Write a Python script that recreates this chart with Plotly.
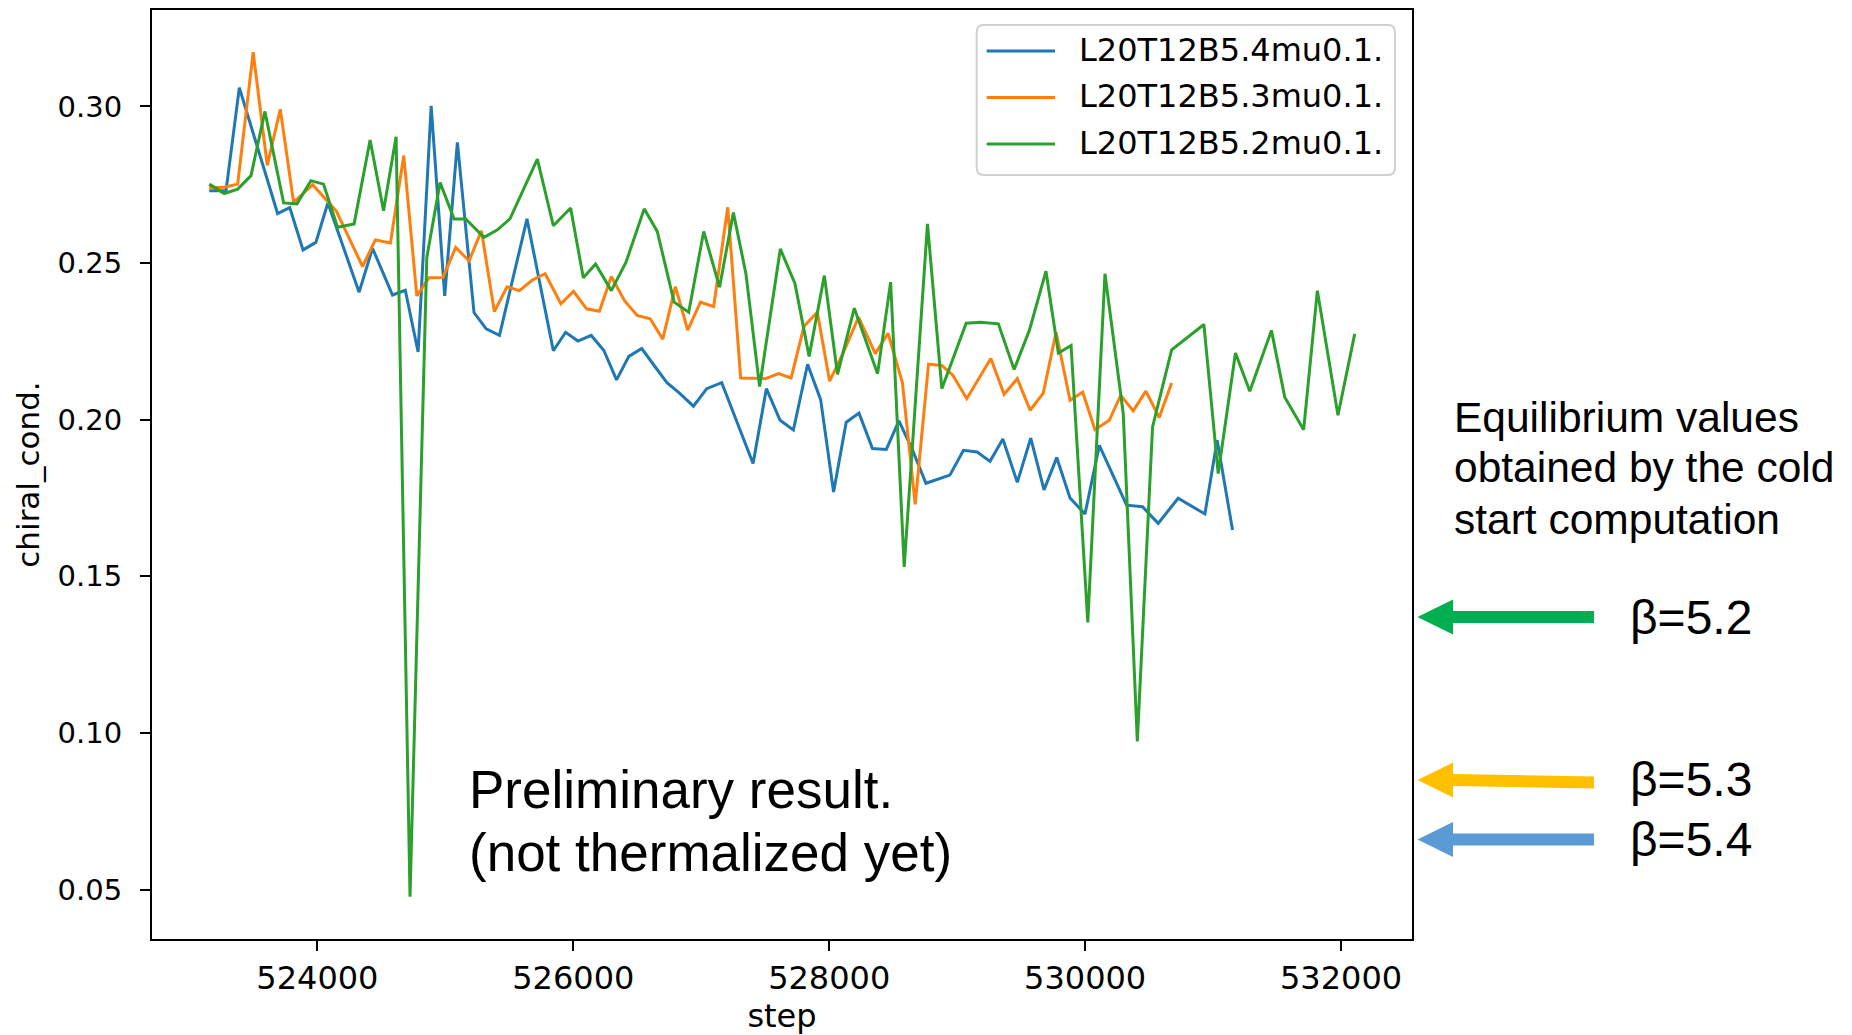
import plotly.graph_objects as go

# ---- measured chiral condensate vs. HMC step, one list pair per beta ----
steps_b54 = [523155, 523286, 523390, 523689, 523784, 523888, 523988, 524082, 524326, 524431,
             524587, 524687, 524787, 524889, 524995, 525094, 525224, 525319, 525423, 525638,
             525844, 525940, 526036, 526140, 526239, 526338, 526434, 526535, 526632, 526734,
             526832, 526939, 527043, 527160, 527405, 527509, 527616, 527720, 527831, 527933,
             528034, 528133, 528233, 528338, 528446, 528545, 528652, 528756, 528943, 529049,
             529156, 529257, 529357, 529470, 529575, 529679, 529778, 529882, 529999, 530111,
             530324, 530449, 530571, 530727, 530936, 531032, 531152]
chiral_b54 = [0.2731, 0.2731, 0.3060, 0.2658, 0.2677, 0.2542, 0.2566, 0.2692, 0.2407, 0.2547,
              0.2398, 0.2413, 0.2216, 0.3002, 0.2395, 0.2885, 0.2342, 0.2290, 0.2269, 0.2641,
              0.2220, 0.2279, 0.2251, 0.2269, 0.2221, 0.2127, 0.2202, 0.2227, 0.2173, 0.2117,
              0.2084, 0.2043, 0.2099, 0.2118, 0.1860, 0.2099, 0.1998, 0.1967, 0.2177, 0.2064,
              0.1769, 0.1992, 0.2021, 0.1908, 0.1905, 0.1996, 0.1902, 0.1797, 0.1823, 0.1902,
              0.1897, 0.1867, 0.1938, 0.1800, 0.1941, 0.1776, 0.1879, 0.1750, 0.1699, 0.1918,
              0.1727, 0.1722, 0.1669, 0.1749, 0.1699, 0.1934, 0.1648]

steps_b53 = [523155, 523272, 523377, 523498, 523608, 523710, 523814, 523963, 524148, 524353,
             524453, 524571, 524675, 524777, 524873, 524981, 525081, 525185, 525282, 525383,
             525482, 525579, 525680, 525780, 525903, 526002, 526104, 526204, 526297, 526400,
             526499, 526601, 526699, 526798, 526894, 526994, 527097, 527207, 527308, 527403,
             527501, 527605, 527702, 527803, 527907, 528003, 528108, 528229, 528360, 528460,
             528572, 528672, 528776, 528880, 528966, 529075, 529166, 529263, 529367, 529470,
             529570, 529673, 529773, 529882, 529981, 530077, 530189, 530278, 530376, 530475,
             530579, 530676]
chiral_b53 = [0.2741, 0.2742, 0.2752, 0.3173, 0.2812, 0.2991, 0.2694, 0.2750, 0.2666, 0.2489,
              0.2574, 0.2564, 0.2843, 0.2395, 0.2453, 0.2454, 0.2550, 0.2507, 0.2603, 0.2345,
              0.2424, 0.2412, 0.2446, 0.2466, 0.2370, 0.2410, 0.2354, 0.2346, 0.2457, 0.2380,
              0.2333, 0.2322, 0.2257, 0.2425, 0.2286, 0.2375, 0.2361, 0.2678, 0.2133, 0.2131,
              0.2131, 0.2147, 0.2133, 0.2298, 0.2343, 0.2123, 0.2212, 0.2327, 0.2211, 0.2276,
              0.2118, 0.1730, 0.2177, 0.2173, 0.2142, 0.2067, 0.2128, 0.2195, 0.2081, 0.2131,
              0.2030, 0.2085, 0.2279, 0.2062, 0.2088, 0.1968, 0.1998, 0.2078, 0.2028, 0.2091,
              0.2007, 0.2117]

steps_b52 = [523155, 523272, 523377, 523481, 523590, 523736, 523840, 523949, 524048, 524158,
             524287, 524412, 524517, 524615, 524724, 524855, 524959, 525068, 525159, 525302,
             525407, 525505, 525719, 525844, 525979, 526078, 526174, 526297, 526412, 526554,
             526656, 526788, 526902, 527019, 527143, 527251, 527349, 527456, 527618, 527732,
             527843, 527962, 528065, 528196, 528378, 528480, 528586, 528768, 528880, 529070,
             529185, 529322, 529445, 529564, 529694, 529791, 529890, 530021, 530155, 530298,
             530408, 530527, 530676, 530928, 531040, 531175, 531287, 531456, 531560, 531708,
             531815, 531976, 532107]
chiral_b52 = [0.2752, 0.2722, 0.2736, 0.2779, 0.2984, 0.2692, 0.2689, 0.2763, 0.2752, 0.2614,
              0.2625, 0.2893, 0.2667, 0.2903, 0.0477, 0.2518, 0.2757, 0.2641, 0.2641, 0.2582,
              0.2606, 0.2641, 0.2832, 0.2619, 0.2676, 0.2453, 0.2497, 0.2412, 0.2503, 0.2673,
              0.2601, 0.2375, 0.2343, 0.2601, 0.2423, 0.2661, 0.2466, 0.2106, 0.2545, 0.2435,
              0.2202, 0.2460, 0.2145, 0.2356, 0.2147, 0.2439, 0.1530, 0.2625, 0.2099, 0.2308,
              0.2311, 0.2306, 0.2160, 0.2285, 0.2474, 0.2213, 0.2237, 0.1353, 0.2466, 0.2019,
              0.0973, 0.1977, 0.2223, 0.2304, 0.1828, 0.2213, 0.2091, 0.2285, 0.2072, 0.1968,
              0.2412, 0.2014, 0.2274]

series_names = ["L20T12B5.4mu0.1.", "L20T12B5.3mu0.1.", "L20T12B5.2mu0.1."]
series_colors = ["#1f77b4", "#ff7f0e", "#2ca02c"]
series_steps = [steps_b54, steps_b53, steps_b52]
series_values = [chiral_b54, chiral_b53, chiral_b52]

# cold-start equilibrium values, marked with arrows to the right of the axes
eq_labels = ["β=5.2", "β=5.3", "β=5.4"]
eq_values = [0.137, 0.085, 0.066]
eq_colors = ["#00B050", "#FFC000", "#5B9BD5"]

x_ticks = [524000, 526000, 528000, 530000, 532000]
y_ticks = [0.05, 0.10, 0.15, 0.20, 0.25, 0.30]

# ---- page geometry (pixels) ----
W, H = 1852, 1035
L, R, T, B = 152, 1412, 10, 939


def px(x):
    return (x - L) / (R - L)


def py(y):
    return (B - y) / (B - T)


def padded(vals, frac=0.05):
    lo, hi = min(vals), max(vals)
    pad = (hi - lo) * frac
    return [lo - pad, hi + pad]


all_x = [v for s in series_steps for v in s]
all_y = [v for s in series_values for v in s]

fig = go.Figure()
for xs, ys, name, color in zip(series_steps, series_values, series_names, series_colors):
    fig.add_trace(go.Scatter(x=xs, y=ys, mode="lines", name=name,
                             line=dict(color=color, width=3), showlegend=False))

BLACK = "#000000"
DEJAVU = "DejaVu Sans"
ARIAL = "Liberation Sans, Arial"

fig.update_layout(
    width=W, height=H, autosize=False,
    margin=dict(l=L, r=W - R, t=T, b=H - B, pad=0, autoexpand=False),
    paper_bgcolor="white", plot_bgcolor="white",
    showlegend=False,
)
fig.update_xaxes(
    range=padded(all_x), tickvals=x_ticks, ticktext=[str(v) for v in x_ticks],
    automargin=False,
    showgrid=False, zeroline=False, showline=True, linecolor=BLACK, linewidth=2,
    mirror=True, ticks="outside", ticklen=10, tickwidth=2, tickcolor=BLACK,
    tickfont=dict(family=DEJAVU, size=32, color=BLACK), ticklabelstandoff=0,
    title=dict(text="step", font=dict(family=DEJAVU, size=32, color=BLACK), standoff=9),
)
fig.update_yaxes(
    range=padded(all_y), tickvals=y_ticks, ticktext=[f"{v:.2f}" for v in y_ticks],
    automargin=False,
    showgrid=False, zeroline=False, showline=True, linecolor=BLACK, linewidth=2,
    mirror=True, ticks="outside", ticklen=10, tickwidth=2, tickcolor=BLACK,
    tickfont=dict(family=DEJAVU, size=29, color=BLACK), ticklabelstandoff=12,
    title=dict(text="chiral_cond.", font=dict(family=DEJAVU, size=31, color=BLACK), standoff=9),
)

shapes = []
annotations = []

# ---- legend box in the upper right corner of the axes ----
lx0, ly0, lx1, ly1, rad = 976.7, 25, 1395, 175, 7


def pt(x, y):
    return f"{px(x):.5f},{py(y):.5f}"


box_path = (f"M {pt(lx0 + rad, ly0)} L {pt(lx1 - rad, ly0)} Q {pt(lx1, ly0)} {pt(lx1, ly0 + rad)} "
            f"L {pt(lx1, ly1 - rad)} Q {pt(lx1, ly1)} {pt(lx1 - rad, ly1)} "
            f"L {pt(lx0 + rad, ly1)} Q {pt(lx0, ly1)} {pt(lx0, ly1 - rad)} "
            f"L {pt(lx0, ly0 + rad)} Q {pt(lx0, ly0)} {pt(lx0 + rad, ly0)} Z")
shapes.append(dict(type="path", xref="paper", yref="paper", path=box_path,
                   fillcolor="rgba(255,255,255,0.8)", line=dict(color="#d0d0d0", width=2),
                   layer="above"))
row_y = [51.0, 97.5, 144.0]
for name, color, ry in zip(series_names, series_colors, row_y):
    shapes.append(dict(type="line", xref="paper", yref="paper",
                       x0=px(986.7), x1=px(1055), y0=py(ry), y1=py(ry),
                       line=dict(color=color, width=3), layer="above"))
    annotations.append(dict(text=name, xref="paper", yref="paper", x=px(1077), y=py(ry - 1),
                            xanchor="left", yanchor="middle", showarrow=False,
                            font=dict(family=DEJAVU, size=32, color=BLACK)))

# ---- note inside the axes ----
for line, cy in zip(["Preliminary result.", "(not thermalized yet)"], [789, 852]):
    annotations.append(dict(text=line, xref="paper", yref="paper", x=px(467), y=py(cy),
                            xanchor="left", yanchor="middle", showarrow=False,
                            font=dict(family=ARIAL, size=53, color=BLACK)))

# ---- side caption ----
for line, cy in zip(["Equilibrium values", "obtained by the cold", "start computation"],
                    [417, 468, 519]):
    annotations.append(dict(text=line, xref="paper", yref="paper", x=px(1452), y=py(cy),
                            xanchor="left", yanchor="middle", showarrow=False,
                            font=dict(family=ARIAL, size=42.5, color=BLACK)))

# ---- block arrows pointing at the equilibrium values ----
tip_x, base_x, end_x = 1417.5, 1453, 1594
head_h, shaft_h = 17.5, 6
tilts = [0, 2.5, 0]
for val, color, label, tilt in zip(eq_values, eq_colors, eq_labels, tilts):
    path = (f"M {px(tip_x):.5f},0 L {px(base_x):.5f},{head_h} L {px(base_x):.5f},{shaft_h} "
            f"L {px(end_x):.5f},{shaft_h - tilt} L {px(end_x):.5f},{-shaft_h - tilt} "
            f"L {px(base_x):.5f},{-shaft_h} L {px(base_x):.5f},{-head_h} Z")
    shapes.append(dict(type="path", xref="paper", yref="y", ysizemode="pixel", yanchor=val,
                       path=path, fillcolor=color, line=dict(width=0)))
    annotations.append(dict(text=label, xref="paper", yref="y", x=px(1628), y=val,
                            xanchor="left", yanchor="middle", showarrow=False,
                            font=dict(family=ARIAL, size=48, color=BLACK)))

fig.update_layout(shapes=shapes, annotations=annotations)
fig.write_html("out.html")
